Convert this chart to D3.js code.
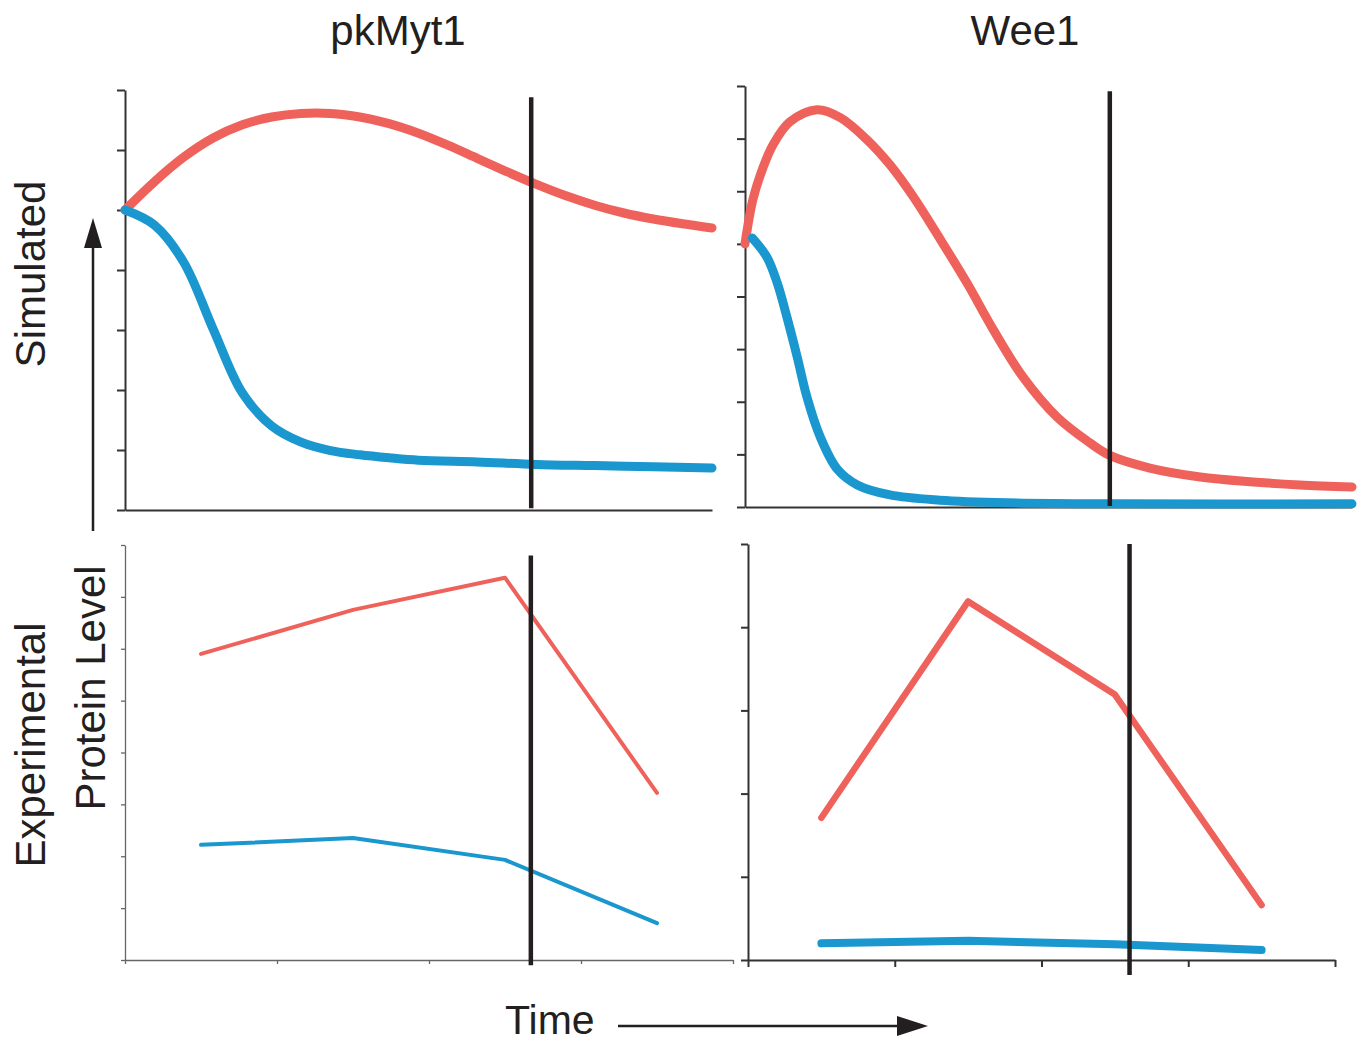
<!DOCTYPE html>
<html>
<head>
<meta charset="utf-8">
<script src="https://cdn.jsdelivr.net/npm/d3@7"></script>
<style>
  body { margin: 0; background: #fff; }
  text { font-family: "Liberation Sans", Arial, sans-serif; fill: #231f20; }
</style>
</head>
<body>
<div id="chart"></div>
<script>
// ---- data ----
// simulated, pkMyt1
var myt1SimTime = [0, 5, 10, 15, 20, 25, 30, 35, 40, 45, 50, 55, 60, 65, 70, 75, 80, 85, 90, 95, 100];
var myt1SimRed  = [5.00, 5.47, 5.88, 6.20, 6.42, 6.55, 6.61, 6.61, 6.55, 6.44, 6.28, 6.08, 5.86, 5.64, 5.43, 5.24, 5.08, 4.95, 4.85, 4.77, 4.70];
var myt1SimBlueTime = [0, 5, 10, 15, 20, 25, 30, 35, 40, 45, 50, 60, 70, 80, 90, 100];
var myt1SimBlue = [5.00, 4.75, 4.13, 3.02, 1.95, 1.40, 1.13, 0.99, 0.92, 0.87, 0.83, 0.80, 0.76, 0.74, 0.72, 0.70];
var myt1SimMarker = 69.2;

// simulated, Wee1
var wee1SimRedTime = [0, 1.3, 3.0, 4.6, 7.4, 11.9, 15.7, 20.1, 23.9, 27.7, 32.1, 36.6, 40.9, 45.8, 51.4, 56.8, 60.1, 66.7, 75.0, 83.2, 91.4, 100];
var wee1SimRed     = [5.00, 5.84, 6.46, 6.88, 7.32, 7.55, 7.40, 6.98, 6.50, 5.90, 5.10, 4.25, 3.37, 2.47, 1.71, 1.22, 0.98, 0.74, 0.57, 0.48, 0.42, 0.38];
var wee1SimBlueTime = [1.2, 3.6, 5.3, 6.9, 8.6, 10.2, 12.4, 15.2, 18.5, 23.9, 32.1, 43.2, 61.8, 100];
var wee1SimBlue     = [5.11, 4.75, 4.26, 3.61, 2.85, 2.09, 1.33, 0.72, 0.42, 0.23, 0.13, 0.08, 0.06, 0.06];
var wee1SimMarker = 60.1;

// experimental
var expTime = [0.5, 1.5, 2.5, 3.5];
var myt1ExpRed  = [5.90, 6.75, 7.37, 3.22];
var myt1ExpBlue = [2.22, 2.35, 1.93, 0.71];
var myt1ExpMarker = 2.67;
var wee1ExpRed  = [1.71, 4.31, 3.19, 0.66];
var wee1ExpBlue = [0.20, 0.23, 0.19, 0.12];
var wee1ExpMarker = 2.60;

var titles = ["pkMyt1", "Wee1"];

var red = "#ef625b", blue = "#1a97cf", ink = "#231f20";

var W = 1361, H = 1044;
var svg = d3.select("#chart").append("svg")
  .attr("width", W).attr("height", H);

function zip(xs, ys) { return xs.map(function(x, i) { return [x, ys[i]]; }); }

// draw one panel
function panel(cfg) {
  var x = d3.scaleLinear().domain(cfg.xDomain).range([cfg.left, cfg.right]);
  var y = d3.scaleLinear().domain(cfg.yDomain).range([cfg.bottom, cfg.top]);
  var g = svg.append("g");

  // y axis
  var ya = g.append("g")
    .attr("transform", "translate(" + cfg.left + ",0)")
    .call(d3.axisLeft(y).ticks(cfg.yDomain[1]).tickSize(cfg.tick).tickSizeOuter(0).tickFormat(""));
  // x axis
  var xa = g.append("g")
    .attr("transform", "translate(0," + cfg.bottom + ")")
    .call(d3.axisBottom(x).tickValues(cfg.xTicks).tickSize(cfg.tick).tickSizeOuter(0).tickFormat(""));
  [ya, xa].forEach(function(a) {
    a.selectAll("path, line").attr("stroke", cfg.axisColor).attr("stroke-width", cfg.axisWidth);
  });

  var line = d3.line()
    .x(function(d) { return x(d[0]); })
    .y(function(d) { return y(d[1]); })
    .curve(cfg.curve);

  cfg.series.forEach(function(s) {
    g.append("path")
      .datum(s.points)
      .attr("d", line)
      .attr("fill", "none")
      .attr("stroke", s.color)
      .attr("stroke-width", s.width)
      .attr("stroke-linecap", "round")
      .attr("stroke-linejoin", "round");
  });

  // marker line
  g.append("line")
    .attr("x1", x(cfg.marker)).attr("x2", x(cfg.marker))
    .attr("y1", y(cfg.markerSpan[0])).attr("y2", y(cfg.markerSpan[1]))
    .attr("stroke", ink).attr("stroke-width", 4.5);
}

var smooth = d3.curveCatmullRom.alpha(0.5);

panel({
  left: 125, right: 712, top: 90, bottom: 510,
  xDomain: [0, 100], yDomain: [0, 7], xTicks: [], tick: 8,
  axisColor: "#333", axisWidth: 2, curve: smooth,
  series: [
    { points: zip(myt1SimTime, myt1SimRed), color: red, width: 9 },
    { points: zip(myt1SimBlueTime, myt1SimBlue), color: blue, width: 9 }
  ],
  marker: myt1SimMarker, markerSpan: [0.03, 6.88]
});

panel({
  left: 745, right: 1352, top: 86, bottom: 507,
  xDomain: [0, 100], yDomain: [0, 8], xTicks: [], tick: 8,
  axisColor: "#333", axisWidth: 2, curve: smooth,
  series: [
    { points: zip(wee1SimRedTime, wee1SimRed), color: red, width: 9 },
    { points: zip(wee1SimBlueTime, wee1SimBlue), color: blue, width: 9 }
  ],
  marker: wee1SimMarker, markerSpan: [0.02, 7.9]
});

panel({
  left: 125, right: 733, top: 545, bottom: 960,
  xDomain: [0, 4], yDomain: [0, 8], xTicks: [0, 1, 2, 3, 4], tick: 4,
  axisColor: "#666", axisWidth: 1.3, curve: d3.curveLinear,
  series: [
    { points: zip(expTime, myt1ExpRed), color: red, width: 4 },
    { points: zip(expTime, myt1ExpBlue), color: blue, width: 4 }
  ],
  marker: myt1ExpMarker, markerSpan: [-0.1, 7.8]
});

panel({
  left: 748, right: 1335, top: 544, bottom: 960,
  xDomain: [0, 4], yDomain: [0, 5], xTicks: [0, 1, 2, 3, 4], tick: 7,
  axisColor: "#333", axisWidth: 2, curve: d3.curveLinear,
  series: [
    { points: zip(expTime, wee1ExpRed), color: red, width: 6.5 },
    { points: zip(expTime, wee1ExpBlue), color: blue, width: 8 }
  ],
  marker: wee1ExpMarker, markerSpan: [-0.18, 5]
});

// titles
svg.selectAll(".title").data(titles).enter().append("text")
  .attr("class", "title")
  .attr("x", function(d, i) { return i === 0 ? 398 : 1025; })
  .attr("y", 45)
  .attr("text-anchor", "middle")
  .style("font-size", "42px")
  .text(function(d) { return d; });

// side labels
function vlabel(txt, cx, cy) {
  svg.append("text")
    .attr("transform", "translate(" + cx + "," + cy + ") rotate(-90)")
    .attr("text-anchor", "middle")
    .style("font-size", "42px")
    .text(txt);
}
vlabel("Simulated", 45, 274);
vlabel("Experimental", 45, 745);
vlabel("Protein Level", 105, 688);

svg.append("text")
  .attr("x", 505).attr("y", 1034)
  .style("font-size", "41px")
  .text("Time");

// arrows
svg.append("line").attr("x1", 93).attr("x2", 93).attr("y1", 531).attr("y2", 246)
  .attr("stroke", ink).attr("stroke-width", 2.5);
svg.append("path").attr("d", "M93,218 L84,248 L102,248 Z").attr("fill", ink);

svg.append("line").attr("x1", 618).attr("x2", 900).attr("y1", 1026).attr("y2", 1026)
  .attr("stroke", ink).attr("stroke-width", 2.5);
svg.append("path").attr("d", "M928,1026 L897,1016 L897,1036 Z").attr("fill", ink);
</script>
</body>
</html>
